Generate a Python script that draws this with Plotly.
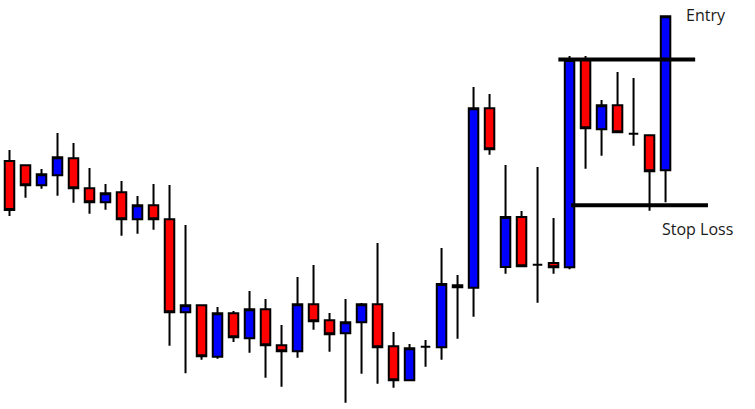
import plotly.graph_objects as go

# Prices (arbitrary units, higher = up)
opens = [248, 243.7, 223.7, 233.7, 250.7, 220.7, 206.7, 216.7, 189.7, 203.7,
         189.7, 96.7, 103.7, 52.3, 95.7, 70.7, 99.7, 63.7, 57.7, 104.7,
         88.7, 75.7, 86.7, 104.7, 62.7, 28.7, 62.3, 61.7, 123.7, 121.3,
         300.7, 142, 192, 144.3, 146, 141.7, 349, 279.7, 303.7, 275.3,
         273.7, 238.7]
closes = [199, 223.7, 234.7, 251.7, 220.7, 206.7, 215.7, 189.7, 203.7, 189.7,
          96.7, 103.7, 52.7, 95.7, 71.7, 99.7, 63.7, 57.7, 104.7, 87.7,
          74.7, 86.7, 104.7, 61.7, 28.7, 60.7, 62.3, 125, 121.7, 300.7,
          259.7, 192, 142.7, 144.3, 141.7, 349, 280.7, 303.7, 276.7, 275.3,
          237.7, 392.7]
highs = [259, 243.7, 240, 276, 266, 241, 225, 228, 213, 225,
         224, 184, 103.7, 102, 98, 118, 110, 84, 132, 144,
         96, 110, 106, 166, 77, 65, 69, 161, 134, 322,
         315, 244, 198, 242, 191, 353, 353, 309, 337, 331,
         273.7, 392.7]
lows = [193, 211.3, 220.3, 213.3, 206.3, 195.3, 199.3, 173.3, 175.3, 179.3,
        63.3, 35.7, 49.3, 50.3, 67, 56.3, 31.3, 22.3, 51.3, 79.3,
        57.3, 6.3, 35.3, 25.3, 21.3, 28.7, 42.3, 49.3, 70.3, 92.3,
        254.3, 135.3, 142.7, 106.3, 135.3, 139.7, 240.3, 253.3, 275.7, 263.3,
        198.3, 206.7]

entry_price = 349.5
stop_price = 203.7
labels = ["Entry", "Stop Loss"]

x = list(range(len(opens)))

fig = go.Figure()
fig.add_trace(go.Candlestick(
    x=x, open=opens, high=highs, low=lows, close=closes,
    increasing=dict(fillcolor="#0000ff", line=dict(color="black", width=2)),
    decreasing=dict(fillcolor="#ff0000", line=dict(color="black", width=2)),
    whiskerwidth=0,
    showlegend=False,
    hoverinfo="skip",
))

fig.add_shape(type="line", x0=34.3, x1=42.85, y0=entry_price, y1=entry_price,
              line=dict(color="black", width=4))
fig.add_shape(type="line", x0=35.1, x1=43.65, y0=stop_price, y1=stop_price,
              line=dict(color="black", width=4))

fig.add_annotation(x=42.15, y=394, text=labels[0], showarrow=False,
                   xanchor="left", yanchor="middle",
                   font=dict(family="Open Sans", size=16, color="#1a1a1a"))
fig.add_annotation(x=40.65, y=180.5, text=labels[1], showarrow=False,
                   xanchor="left", yanchor="middle",
                   font=dict(family="Open Sans", size=16, color="#1a1a1a"))

fig.update_layout(
    width=755, height=409,
    margin=dict(l=0, r=0, t=0, b=0),
    paper_bgcolor="white", plot_bgcolor="white",
    xaxis=dict(range=[-0.594, 46.59], visible=False, rangeslider=dict(visible=False)),
    yaxis=dict(range=[0, 409], visible=False),
    boxgap=0.15,
)

fig.write_html("out.html", config={"displayModeBar": False},
               post_script="document.body.style.margin='0';document.body.style.overflow='hidden';")
